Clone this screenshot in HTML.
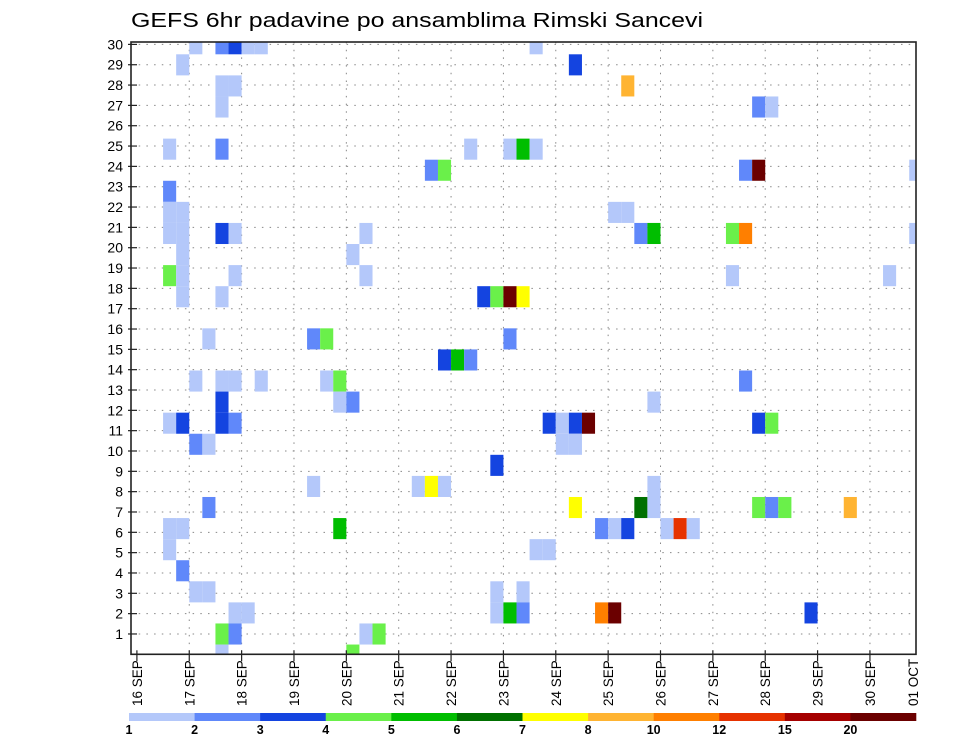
<!DOCTYPE html>
<html><head><meta charset="utf-8"><style>
html,body{margin:0;padding:0;background:#fff;}
svg{display:block;font-family:"Liberation Sans",sans-serif;}
</style></head><body>
<svg id="chart" width="960" height="742" viewBox="0 0 960 742" xmlns="http://www.w3.org/2000/svg">
<text x="131" y="27" font-size="20" textLength="572" lengthAdjust="spacingAndGlyphs" fill="#000">GEFS 6hr padavine po ansamblima Rimski Sancevi</text>
<defs><clipPath id="plotclip"><rect x="131" y="42" width="785" height="612"/></clipPath></defs>
<g id="grid"></g>
<g id="cells" clip-path="url(#plotclip)"></g>
<g id="axes"></g>
<g id="legend"></g>
</svg>
<script>
// data
const cellStep   = [4,6,7,8,9,30, 3,33, 6,7,37, 6,47,48, 2,6,25,28,29,30, 22,23,46,47,59, 2, 2,3,36,37,
  2,3,6,7,17,38,39,45,46,59, 3,16, 2,3,7,17,45,57, 3,6,26,27,28,29, 5,13,14,28, 23,24,25,
  4,6,7,9,14,15,46, 6,15,16,39, 2,3,6,7,31,32,33,34,47,48, 4,5,32,33, 27, 13,21,22,23,39,
  5,33,38,39,47,48,49,54, 2,3,15,35,36,37,40,41,42, 2,30,31, 3, 4,5,27,29, 7,8,27,28,29,35,36,51, 6,7,17,18, 6,16];
const cellMember = [29,29,29,29,29,29, 28,28, 27,27,27, 26,26,26, 24,24,24,24,24,24, 23,23,23,23,23, 22, 21,21,21,21,
  20,20,20,20,20,20,20,20,20,20, 19,19, 18,18,18,18,18,18, 17,17,17,17,17,17, 15,15,15,15, 14,14,14,
  13,13,13,13,13,13,13, 12,12,12,12, 11,11,11,11,11,11,11,11,11,11, 10,10,10,10, 9, 8,8,8,8,8,
  7,7,7,7,7,7,7,7, 6,6,6,6,6,6,6,6,6, 5,5,5, 4, 3,3,3,3, 2,2,2,2,2,2,2,2, 1,1,1,1, 0,0];
const cellValue  = [1.5,2.5,3.5,1.5,1.5,1.5, 1.5,3.5, 1.5,1.5,9, 1.5,2.5,1.5, 1.5,2.5,1.5,1.5,5.5,1.5, 2.5,4.5,2.5,25,1.5, 2.5, 1.5,1.5,1.5,1.5,
  1.5,1.5,3.5,1.5,1.5,2.5,5.5,4.5,11,1.5, 1.5,1.5, 4.5,1.5,1.5,1.5,1.5,1.5, 1.5,1.5,3.5,4.5,25,7.5, 1.5,2.5,4.5,2.5, 3.5,5.5,2.5,
  1.5,1.5,1.5,1.5,1.5,4.5,2.5, 3.5,1.5,2.5,1.5, 1.5,3.5,3.5,2.5,3.5,1.5,3.5,25,3.5,4.5, 2.5,1.5,1.5,1.5, 3.5, 1.5,1.5,7.5,1.5,1.5,
  2.5,7.5,6.5,1.5,4.5,2.5,4.5,9, 1.5,1.5,5.5,2.5,1.5,3.5,1.5,13,1.5, 1.5,1.5,1.5, 2.5, 1.5,1.5,1.5,1.5, 1.5,1.5,1.5,5.5,2.5,11,25,3.5, 4.5,2.5,1.5,4.5, 1.5,4.5];
const levels = [1,2,3,4,5,6,7,8,10,12,15,20];
const levelColors = ["#b4c8fa","#6088fa","#1444e0","#6af04a","#00be00","#007000","#ffff00","#ffb432","#ff7f00","#e63200","#a50000","#6b0000"];
const dayLabels = ["16 SEP","17 SEP","18 SEP","19 SEP","20 SEP","21 SEP","22 SEP","23 SEP","24 SEP","25 SEP","26 SEP","27 SEP","28 SEP","29 SEP","30 SEP","01 OCT"];
const memberTicks = [1,2,3,4,5,6,7,8,9,10,11,12,13,14,15,16,17,18,19,20,21,22,23,24,25,26,27,28,29,30];

const NS="http://www.w3.org/2000/svg";
const X0=136.9, STEP=13.09, L=131, R=916, T=42, B=654.3;
function xStep(j){return X0+j*STEP;}
function xDay(d){return X0+d*4*STEP;}
function yGrid(k){return B-20.33*k;}
function yCell(k){return 634-(k-1)*21.08;}
function colorFor(v){let i=0;for(let n=0;n<levels.length;n++){if(v>=levels[n])i=n;}return levelColors[i];}
function mk(tag,attrs,parent){const e=document.createElementNS(NS,tag);for(const a in attrs)e.setAttribute(a,attrs[a]);parent.appendChild(e);return e;}

const grid=document.getElementById('grid'), cells=document.getElementById('cells'), axes=document.getElementById('axes'), legend=document.getElementById('legend');

// horizontal dotted grid
memberTicks.forEach(k=>{
  const y=yGrid(k); if(y<T)return;
  const l=mk('line',{x1:L,x2:R,y1:y,y2:y,stroke:'#888','stroke-width':1,'stroke-dasharray':'1.5 6.2'},grid);
  
  
});
// vertical dotted grid
dayLabels.forEach((d,i)=>{
  const x=xDay(i); if(x>R||i===0)return;
  const l=mk('line',{x1:x,x2:x,y1:T,y2:B,stroke:'#888','stroke-width':1,'stroke-dasharray':'1.5 6.2'},grid);
  
  
});

// cells
for(let n=0;n<cellStep.length;n++){
  const c=mk('rect',{x:xStep(cellStep[n]),y:yCell(cellMember[n])-10.54,width:STEP,height:21.08,fill:colorFor(cellValue[n])},cells);
  
  
}

// frame
const fr=mk('rect',{x:L,y:T,width:R-L,height:B-T,fill:'none',stroke:'#222','stroke-width':1.6},axes);



// y ticks & labels
memberTicks.forEach(k=>{
  const y=yGrid(k);
  const t=mk('line',{x1:L-3,x2:L+6,y1:y,y2:y,stroke:'#222','stroke-width':1.2},axes);
  
  
  const tx=mk('text',{x:123,y:y+5,'font-size':14,'text-anchor':'end',fill:'#000'},axes);
  tx.textContent=k;
  
  
});

// x ticks & labels
dayLabels.forEach((d,i)=>{
  let x=xDay(i);
  if(x<=R){
    const t=mk('line',{x1:x,x2:x,y1:B-4,y2:B+7,stroke:'#222','stroke-width':1.2},axes);
    
    
  } else x=913;
  const tx=mk('text',{x:0,y:0,'font-size':13.5,fill:'#000',transform:'translate('+(x+5)+',706) rotate(-90)'},axes);
  tx.textContent=d;
  
  
});

// colorbar
const segW=(916-129)/levelColors.length;
levelColors.forEach((c,i)=>{
  const r=mk('rect',{x:129+i*segW,y:713,width:segW+0.3,height:8,fill:c},legend);
  
  
  const tx=mk('text',{x:129+i*segW,y:734,'font-size':12.5,'font-weight':'bold','text-anchor':'middle',fill:'#000'},legend);
  tx.textContent=levels[i];
  
  
});
</script>
</body></html>
